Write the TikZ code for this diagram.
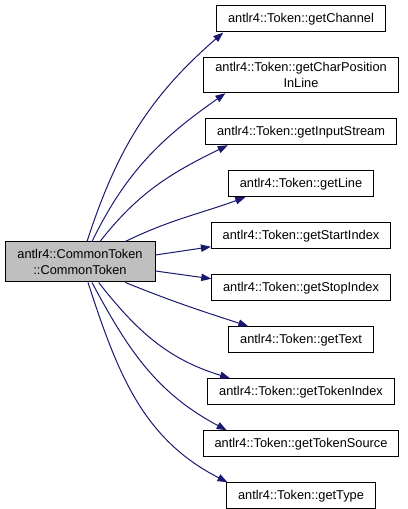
\documentclass[tikz,border=0pt]{standalone}
\usepackage{fontspec}
\setmainfont{Liberation Sans}
\usepackage{xcolor}
\usetikzlibrary{positioning,arrows.meta}
\definecolor{edgeblue}{HTML}{191970}
\definecolor{rootfill}{HTML}{BFBFBF}
\tikzset{
  member/.style={
    draw=black, line width=0.75pt, fill=white,
    inner xsep=8.5pt, inner ysep=3.5pt, align=center,
    font=\fontsize{9.6}{12}\selectfont, minimum height=19.5pt},
  rootbox/.style={member, fill=rootfill, minimum width=112.5pt, minimum height=30pt},
  call/.style={draw=edgeblue, line width=0.75pt,
    -{Triangle[length=7.5pt,width=5.5pt]}},
}

\begin{document}
\begin{tikzpicture}[x=0.75pt, y=0.75pt]
  \useasboundingbox (0,0) rectangle (407,509);

  \node[rootbox] (main) at (80,247) {antlr4::CommonToken\\::CommonToken};

  \node[member] (chan) at (301,490) {antlr4::Token::getChannel};
  \node[member, below=18.75pt of chan] (cpos)
    {antlr4::Token::getCharPosition\\InLine};
  \node[member, below=18.75pt of cpos] (input) {antlr4::Token::getInputStream};
  \node[member, below=18.75pt of input] (line) {antlr4::Token::getLine};
  \node[member, below=18.75pt of line] (start) {antlr4::Token::getStartIndex};
  \node[member, below=18.75pt of start] (stop) {antlr4::Token::getStopIndex};
  \node[member, below=18.75pt of stop] (text) {antlr4::Token::getText};
  \node[member, below=18.75pt of text] (tindex) {antlr4::Token::getTokenIndex};
  \node[member, below=18.75pt of tindex] (tsource) {antlr4::Token::getTokenSource};
  \node[member, below=18.75pt of tsource] (type) {antlr4::Token::getType};

  % calls above the root
  \draw[call] ([xshift=5.25pt]main.north) to[out=72,in=221] ([xshift=5.25pt]chan.south west);
  \draw[call] ([xshift=9pt]main.north) to[out=64,in=215] ([xshift=16.5pt]cpos.south west);
  \draw[call] ([xshift=15pt]main.north) to[out=52,in=206] ([xshift=17pt]input.south west);
  \draw[call] ([xshift=34pt]main.north) to[out=26,in=200] ([xshift=13pt]line.south west);
  % calls beside the root
  \draw[call] ([yshift=5.25pt]main.east) -- ([yshift=-8.25pt]start.west);
  \draw[call] ([yshift=-6.75pt]main.east) -- ([yshift=6.75pt]stop.west);
  % calls below the root
  \draw[call] ([xshift=34pt]main.south) to[out=-22,in=162] ([xshift=15pt]text.north west);
  \draw[call] ([xshift=14pt]main.south) to[out=-52,in=163] ([xshift=17pt]tindex.north west);
  \draw[call] ([xshift=9pt]main.south) to[out=-62,in=152] ([xshift=18pt]tsource.north west);
  \draw[call] ([xshift=6pt]main.south) to[out=-72,in=153] ([xshift=1pt]type.north west);

\end{tikzpicture}
\end{document}
